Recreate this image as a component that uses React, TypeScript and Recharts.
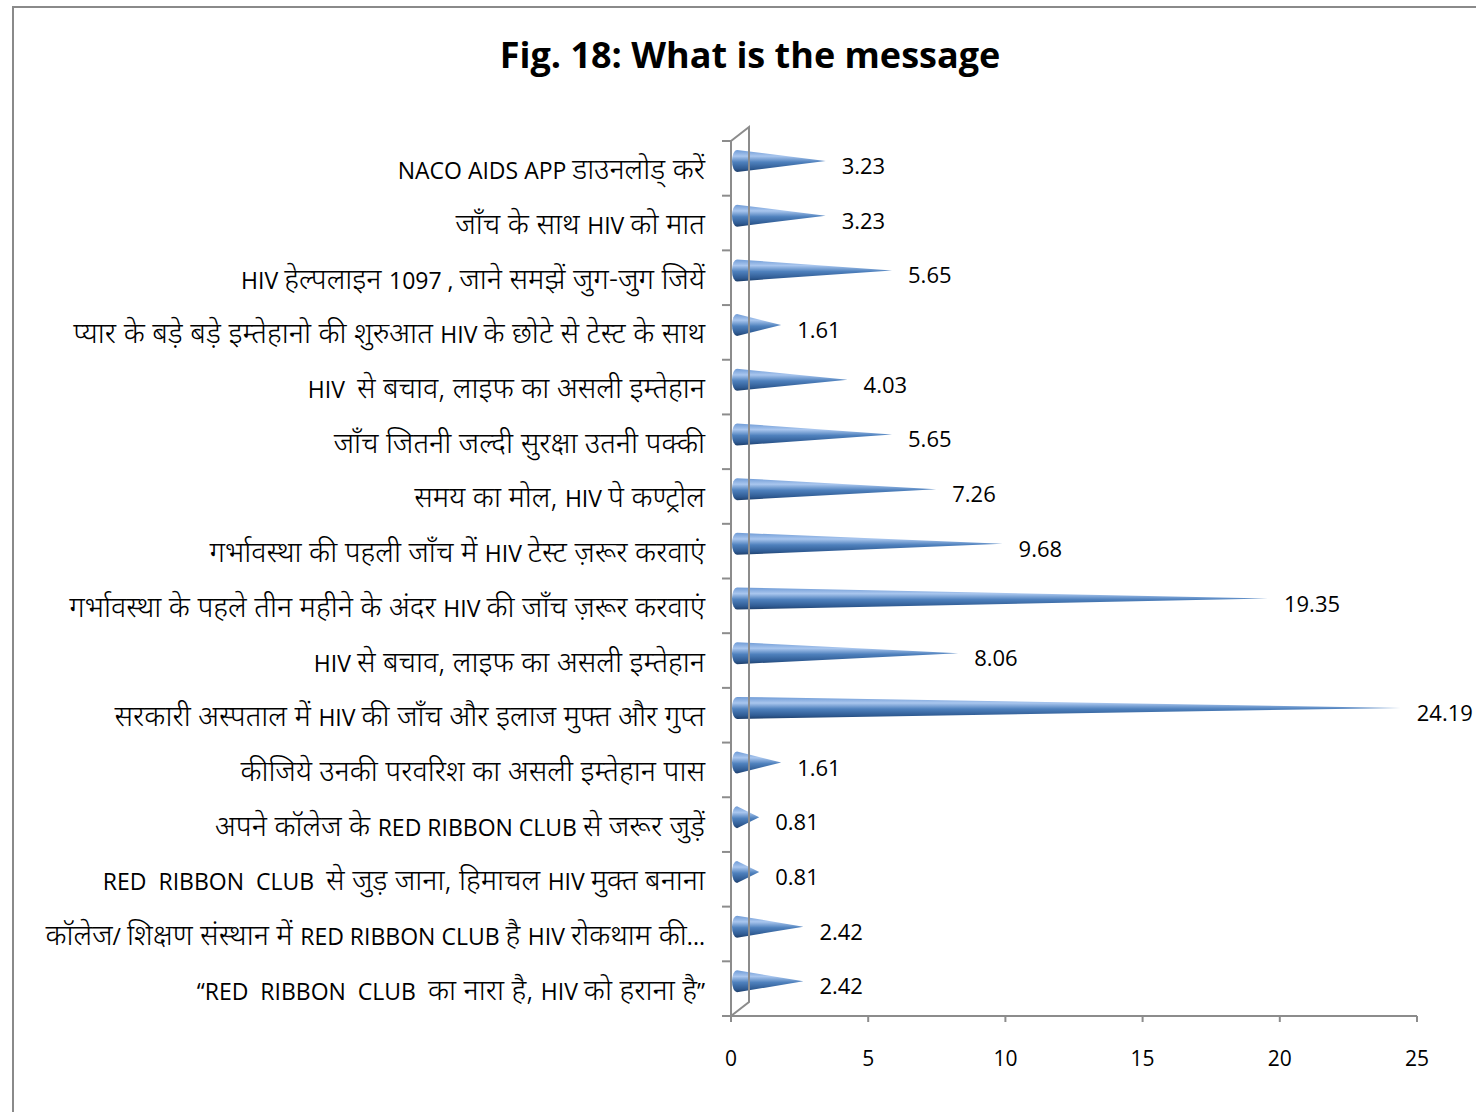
import { Bar, BarChart, LabelList, XAxis, YAxis } from "recharts";

const categories = [
  "NACO AIDS APP डाउनलोड् करें",
  "जाँच के साथ HIV को मात",
  "HIV हेल्पलाइन 1097 , जाने समझें जुग-जुग जियें",
  "प्यार के बड़े बड़े इम्तेहानो की शुरुआत HIV के छोटे से टेस्ट के साथ",
  "HIV  से बचाव, लाइफ का असली इम्तेहान",
  "जाँच जितनी जल्दी सुरक्षा उतनी पक्की",
  "समय का मोल, HIV पे कण्ट्रोल",
  "गर्भावस्था की पहली जाँच में HIV टेस्ट ज़रूर करवाएं",
  "गर्भावस्था के पहले तीन महीने के अंदर HIV की जाँच ज़रूर करवाएं",
  "HIV से बचाव, लाइफ का असली इम्तेहान",
  "सरकारी अस्पताल में HIV की जाँच और इलाज मुफ्त और गुप्त",
  "कीजिये उनकी परवरिश का असली इम्तेहान पास",
  "अपने कॉलेज के RED RIBBON CLUB से जरूर जुड़ें",
  "RED  RIBBON  CLUB  से जुड़ जाना, हिमाचल HIV मुक्त बनाना",
  "कॉलेज/ शिक्षण संस्थान में RED RIBBON CLUB है HIV रोकथाम की...",
  "“RED  RIBBON  CLUB  का नारा है, HIV को हराना है”",
];

const percents = [
  3.23, 3.23, 5.65, 1.61, 4.03, 5.65, 7.26, 9.68, 19.35, 8.06, 24.19, 1.61, 0.81, 0.81, 2.42, 2.42,
];

const xTicks = [0, 5, 10, 15, 20, 25];

const data = categories.map((name, i) => ({ name, value: percents[i] }));

// layout of the plot area (page pixels)
const W = 1476;
const H = 1112;
const PLOT_LEFT = 731;
const PLOT_TOP = 141;
const PLOT_BOTTOM = 1016;
const PLOT_RIGHT = 1417;
const DEPTH_X = 18;
const DEPTH_Y = 14;
const BAND = (PLOT_BOTTOM - PLOT_TOP) / categories.length;

const FONT = "'Open Sans', 'Noto Sans', sans-serif";
const DEV_FONT = "'Noto Sans Devanagari', 'Lohit Devanagari', 'Noto Sans', sans-serif";

// split a label into Devanagari / Latin runs so each can get its own size
function splitRuns(s: string) {
  const runs: { dev: boolean; text: string }[] = [];
  for (const ch of s) {
    const code = ch.codePointAt(0) || 0;
    const isDev = code >= 0x0900 && code <= 0x097f;
    const neutral = ch === " " || ch === "," || ch === "-";
    const last = runs[runs.length - 1];
    if (last && (neutral || last.dev === isDev)) last.text += ch;
    else runs.push({ dev: isDev, text: ch });
  }
  return runs;
}

function CategoryTick(props: any) {
  const { y, payload, index } = props;
  const top = y - BAND / 2;
  return (
    <g>
      {index === 0 && (
        <polyline
          points={`${PLOT_LEFT},${PLOT_TOP} ${PLOT_LEFT + DEPTH_X},${PLOT_TOP - DEPTH_Y} ${PLOT_LEFT + DEPTH_X},${PLOT_BOTTOM - DEPTH_Y} ${PLOT_LEFT},${PLOT_BOTTOM}`}
          fill="none"
          stroke="#8c8c8c"
          strokeWidth={2}
        />
      )}
      <line x1={PLOT_LEFT - 9} x2={PLOT_LEFT} y1={top} y2={top} stroke="#8c8c8c" strokeWidth={2} />
      {index === categories.length - 1 && (
        <line
          x1={PLOT_LEFT - 9}
          x2={PLOT_LEFT}
          y1={top + BAND}
          y2={top + BAND}
          stroke="#8c8c8c"
          strokeWidth={2}
        />
      )}
      <text x={705} y={y + 11} textAnchor="end" fill="#000" style={{ whiteSpace: "pre" }}>
        {splitRuns(payload.value).map((r, i) => (
          <tspan
            key={i}
            fontFamily={r.dev ? DEV_FONT : FONT}
            fontSize={r.dev ? 29 : 23}
            fontWeight={r.dev ? 350 : 400}
          >
            {r.text}
          </tspan>
        ))}
      </text>
    </g>
  );
}

function Cone(props: any) {
  const { x, y, width, height } = props;
  const x0 = x + 6;
  const yT = y - 7;
  const yB = yT + height;
  const yc = (yT + yB) / 2;
  const tip = x0 + width;
  const d = `M ${x0} ${yT} L ${tip} ${yc} L ${x0} ${yB} A 5 ${height / 2} 0 0 1 ${x0} ${yT} Z`;
  return <path d={d} fill="url(#coneFill)" />;
}

function ValueLabel(props: any) {
  const { x, y, width, height, value } = props;
  return (
    <text
      x={x + width + 22}
      y={y + height / 2 - 3}
      dominantBaseline="central"
      fontSize={22}
      fontFamily={FONT}
      fill="#000"
    >
      {value}
    </text>
  );
}

export default function App() {
  return (
    <div style={{ position: "absolute", left: 0, top: 0, width: W, height: H, background: "#fff", overflow: "hidden" }}>
      <div
        style={{
          position: "absolute",
          left: 12,
          top: 6,
          width: W,
          height: H,
          borderLeft: "2px solid #8a8a8a",
          borderTop: "2px solid #8a8a8a",
        }}
      />
      <div
        style={{
          position: "absolute",
          left: 0,
          top: 30,
          width: 1500,
          textAlign: "center",
          fontFamily: FONT,
          fontWeight: 700,
          fontSize: 36,
          color: "#000",
        }}
      >
        Fig. 18: What is the message
      </div>
      <div style={{ position: "absolute", left: 0, top: 0 }}>
        <BarChart
          width={W}
          height={H}
          data={data}
          layout="vertical"
          margin={{ top: PLOT_TOP, right: W - PLOT_RIGHT, bottom: H - PLOT_BOTTOM - 60, left: 10 }}
          barSize={22}
        >
          <defs>
            <linearGradient id="coneFill" x1="0" y1="0" x2="0" y2="1">
              <stop offset="0%" stopColor="#6f9bd6" />
              <stop offset="28%" stopColor="#a9c6ee" />
              <stop offset="55%" stopColor="#4f81bd" />
              <stop offset="85%" stopColor="#2f5b93" />
              <stop offset="100%" stopColor="#1f3f6a" />
            </linearGradient>
          </defs>
          <XAxis
            type="number"
            domain={[0, 25]}
            ticks={xTicks}
            height={60}
            axisLine={{ stroke: "#8c8c8c", strokeWidth: 2 }}
            tickLine={{ stroke: "#8c8c8c", strokeWidth: 2 }}
            tickSize={6}
            tickMargin={29}
            tick={{ fontSize: 21, fontFamily: FONT, fill: "#000" }}
          />
          <YAxis
            type="category"
            dataKey="name"
            width={PLOT_LEFT - 10}
            interval={0}
            axisLine={{ stroke: "#8c8c8c", strokeWidth: 2 }}
            tickLine={false}
            tick={<CategoryTick />}
          />
          <Bar dataKey="value" shape={<Cone />} isAnimationActive={false}>
            <LabelList dataKey="value" content={<ValueLabel />} />
          </Bar>
        </BarChart>
      </div>
    </div>
  );
}
